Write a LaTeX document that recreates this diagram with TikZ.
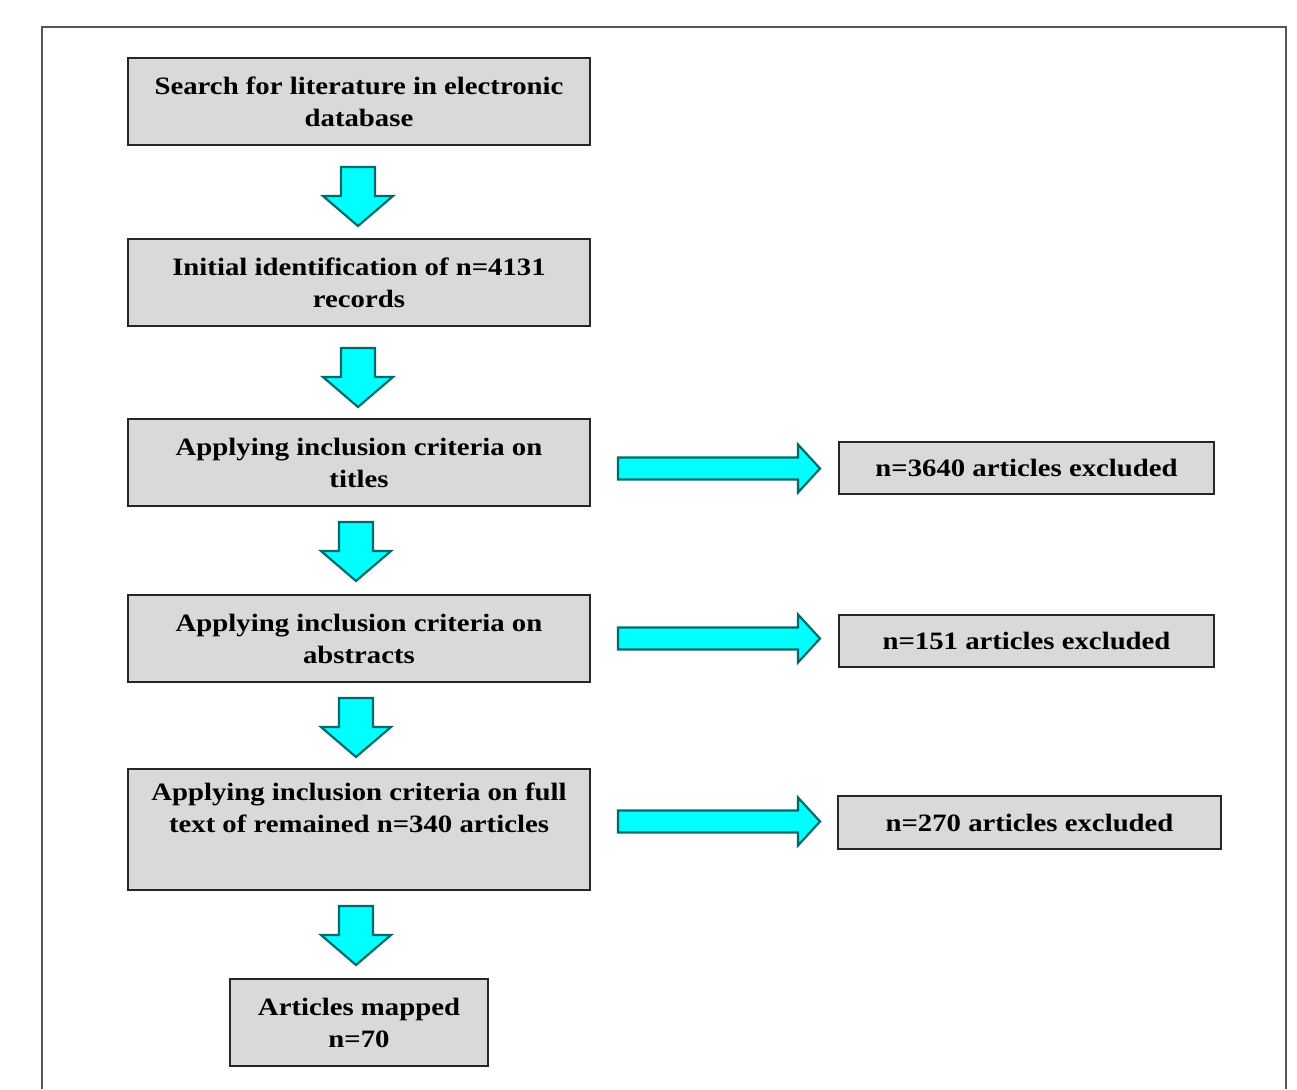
\documentclass[tikz,border=0pt]{standalone}
\usepackage{fontspec}
\setmainfont{Liberation Serif}[FakeStretch=1.15]
\usetikzlibrary{calc}
\definecolor{boxfill}{HTML}{D9D9D9}
\definecolor{arrfill}{HTML}{00FFFF}
\definecolor{arrline}{HTML}{006B6B}
\definecolor{frameline}{HTML}{555555}
\tikzset{
  x=1pt,y=-1pt,
  boxfont/.style={font=\fontsize{25}{32}\selectfont\bfseries},
  stagebox/.style={draw=black!85,line width=2pt,fill=boxfill,inner sep=0pt,
    boxfont,align=center},
  blockarrow/.style={draw=arrline,fill=arrfill,line width=2.2pt,line join=miter},
  downarr/.pic={\draw[blockarrow] (-17,0) -- (17,0) -- (17,29) -- (35,29) -- (0,59)
     -- (-35,29) -- (-17,29) -- cycle;},
  rightarr/.pic={\draw[blockarrow] (0,-11) -- (180,-11) -- (180,-24) -- (202,0)
     -- (180,24) -- (180,11) -- (0,11) -- cycle;}
}
\begin{document}
\begin{tikzpicture}
\useasboundingbox (0,0) rectangle (1297,1089);
\draw[frameline,line width=2pt] (42,1089) -- (42,27) -- (1286,27) -- (1286,1089);

\node[stagebox,minimum width=462,minimum height=87] (b1) at (359,101.5)
  {Search for literature in electronic\\database};
\node[stagebox,minimum width=462,minimum height=87] (b2) at (359,282.5)
  {Initial identification of n=4131\\records};
\node[stagebox,minimum width=462,minimum height=87] (b3) at (359,462.5)
  {Applying inclusion criteria on\\titles};
\node[stagebox,minimum width=462,minimum height=87] (b4) at (359,638.5)
  {Applying inclusion criteria on\\abstracts};
\node[stagebox,minimum width=462,minimum height=121] (b5) at (359,829.5) {};
\node[boxfont,align=center,anchor=north,inner sep=0pt]
  (b5t) at (359,783) {Applying inclusion criteria on full\\text of remained n=340 articles};
\node[stagebox,minimum width=258,minimum height=87] (b6) at (359,1022.5)
  {Articles mapped\\n=70};

\node[stagebox,minimum width=375,minimum height=52] (e1) at (1026.5,468)
  {n=3640 articles excluded};
\node[stagebox,minimum width=375,minimum height=52] (e2) at (1026.5,640.5)
  {n=151 articles excluded};
\node[stagebox,minimum width=383,minimum height=53] (e3) at (1029.5,822.5)
  {n=270 articles excluded};

\coordinate (d1) at ($(b1.south)+(-1,21)$);
\coordinate (d2) at ($(b2.south)+(-1,21)$);
\coordinate (d3) at ($(b3.south)+(-3,15)$);
\coordinate (d4) at ($(b4.south)+(-3,15)$);
\coordinate (d5) at ($(b5.south)+(-3,15)$);
\pic at (d1) {downarr};
\pic at (d2) {downarr};
\pic at (d3) {downarr};
\pic at (d4) {downarr};
\pic at (d5) {downarr};

\coordinate (r1) at ($(b3.east)+(27,6)$);
\coordinate (r2) at ($(b4.east)+(27,0)$);
\coordinate (r3) at ($(b5.east)+(27,-8)$);
\pic at (r1) {rightarr};
\pic at (r2) {rightarr};
\pic at (r3) {rightarr};
\end{tikzpicture}
\end{document}
